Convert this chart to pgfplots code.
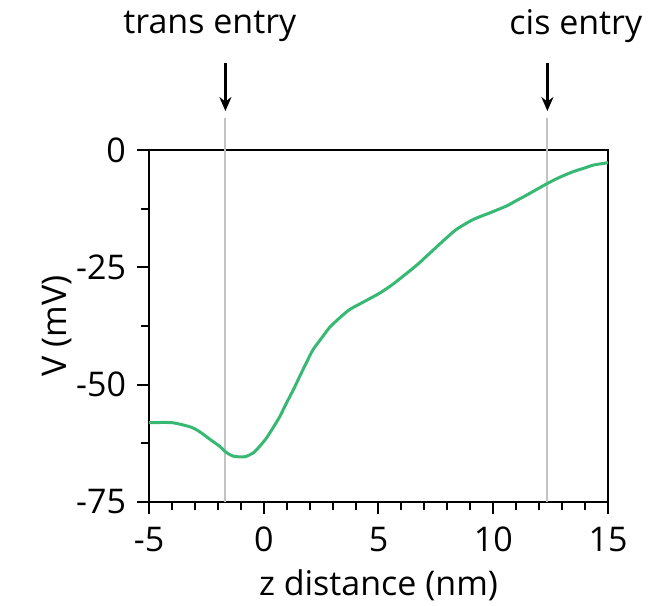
\documentclass[border=0pt]{standalone}
\usepackage{fontspec}
\setmainfont{Open Sans}
\usepackage{pgfplots}
\pgfplotsset{compat=1.18}
\usetikzlibrary{arrows.meta}
\definecolor{curvegreen}{RGB}{55,185,115}
\definecolor{entrygray}{RGB}{195,195,195}
\begin{document}
\begin{tikzpicture}
\path[use as bounding box] (-74.5pt,-52pt) rectangle (250pt,251pt);
\begin{axis}[
  scale only axis, width=229.5pt, height=176pt,
  xmin=-5, xmax=15, ymin=-75, ymax=0,
  xtick={-5,0,5,10,15}, xticklabels={-5,0,5,10,15},
  ytick={-75,-50,-25,0}, yticklabels={-75,-50,-25,0},
  minor xtick={-4,-3,-2,-1,1,2,3,4,6,7,8,9,11,12,13,14},
  minor ytick={-62.5,-37.5,-12.5},
  tick align=outside, xtick pos=bottom, ytick pos=left,
  major tick length=6pt, minor tick length=4pt,
  every tick/.style={black, line width=1pt},
  axis line style={line width=1.4pt},
  ticklabel style={font=\fontsize{17}{20}\selectfont},
  xticklabel style={yshift=-3pt},
  yticklabel style={xshift=-2pt},
  label style={font=\fontsize{17}{20}\selectfont},
  xlabel={z distance (nm)}, ylabel={V (mV)},
  xlabel style={yshift=-2pt},
  ylabel style={yshift=-5pt},
  clip=false,
]
\draw[entrygray, line width=1pt] (axis cs:-1.67,-75) -- (axis cs:-1.67,6.8);
\draw[entrygray, line width=1pt] (axis cs:12.36,-75) -- (axis cs:12.36,6.8);
\draw[black, line width=1.2pt, -{Stealth[length=7pt,width=6pt]}] (axis cs:-1.67,18.5) -- (axis cs:-1.67,8.3);
\draw[black, line width=1.2pt, -{Stealth[length=7pt,width=6pt]}] (axis cs:12.36,18.5) -- (axis cs:12.36,8.3);
\node[font=\fontsize{17}{20}\selectfont] at (axis cs:-2.35,26.3) {trans entry};
\node[font=\fontsize{17}{20}\selectfont] at (axis cs:13.6,26.3) {cis entry};
\addplot[curvegreen, line width=1.5pt, smooth, tension=0.4] coordinates {
(-5.0,-58.1) (-4.0,-58.1) (-3.2,-59.0) (-2.8,-60.0) (-2.3,-61.8) (-1.9,-63.2)
(-1.67,-64.3) (-1.35,-65.2) (-1.0,-65.4) (-0.77,-65.3) (-0.45,-64.5) (-0.19,-63.2)
(0.1,-61.5) (0.39,-59.3) (0.7,-56.8) (0.98,-54.0) (1.3,-51.0) (1.56,-48.3)
(1.85,-45.4) (2.14,-42.6) (2.5,-40.2) (2.87,-37.8) (3.3,-35.8) (3.74,-34.0)
(4.3,-32.5) (5.05,-30.5) (5.6,-28.7) (6.22,-26.3) (6.7,-24.4) (7.1,-22.6)
(7.5,-20.8) (7.9,-19.0) (8.4,-16.9) (9.13,-14.8) (9.9,-13.3) (10.59,-11.9)
(11.0,-10.8) (11.46,-9.6) (12.33,-7.2) (12.9,-5.8) (13.49,-4.6) (14.0,-3.8)
(14.37,-3.2) (14.88,-2.8) (15.0,-2.7)
};
\end{axis}
\end{tikzpicture}
\end{document}
